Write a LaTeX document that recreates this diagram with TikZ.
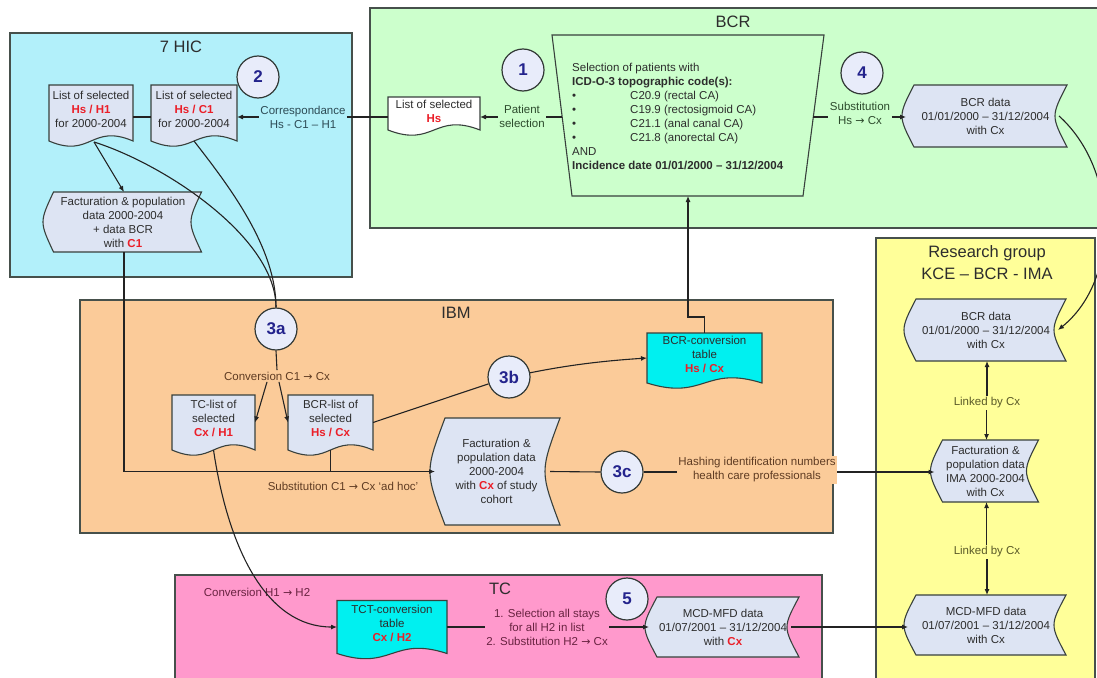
\documentclass[tikz,border=0pt]{standalone}
\usepackage{fontspec}
\setmainfont{Liberation Sans}
\newfontfamily\arrfont{DejaVu Sans}
\usetikzlibrary{calc,arrows.meta}
\definecolor{hicfill}{RGB}{178,240,250}
\definecolor{bcrfill}{RGB}{204,255,204}
\definecolor{ibmfill}{RGB}{251,203,153}
\definecolor{resfill}{RGB}{255,255,153}
\definecolor{tcfill}{RGB}{255,153,204}
\definecolor{docfill}{RGB}{221,228,243}
\definecolor{tabfill}{RGB}{0,240,240}
\definecolor{circfill}{RGB}{232,236,250}
\definecolor{numblue}{RGB}{35,35,140}
\definecolor{redtxt}{RGB}{235,30,40}
\definecolor{txt}{RGB}{45,45,45}
\definecolor{linec}{RGB}{35,35,35}
\definecolor{borderc}{RGB}{70,80,75}
\definecolor{hiclab}{RGB}{45,75,85}
\definecolor{bcrlab}{RGB}{45,75,45}
\definecolor{ibmlab}{RGB}{95,60,35}
\definecolor{tclab}{RGB}{105,35,65}
\definecolor{reslab}{RGB}{90,90,40}
\newcommand\rd[1]{\textcolor{redtxt}{\textbf{#1}}}
\newcommand\ra{{\arrfont\fontsize{11}{14}\selectfont →}}
\tikzset{
 every node/.style={font=\fontsize{11.5}{14}\selectfont, text=txt},
 region/.style={draw=borderc, line width=1.4pt},
 title/.style={font=\fontsize{16.5}{22}\selectfont, text=txt, align=center},
 anchorbox/.style={rectangle, inner sep=0pt, outer sep=0pt},
 doctext/.style={align=center, inner sep=1pt},
 shapeborder/.style={draw=borderc!80!black, line width=1.1pt},
 num/.style={circle, draw=borderc!70!black, line width=1.2pt, fill=circfill, minimum size=42pt, inner sep=0pt, font=\fontsize{17}{20}\selectfont\bfseries, text=numblue},
 conn/.style={draw=linec, line width=1.1pt},
 arr/.style={conn, -{Latex[length=6pt,width=5pt]}},
 lab/.style={align=center, inner sep=1.5pt},
}
% document shape: name, fill, wave control
\newcommand\docshape[3]{%
  \filldraw[shapeborder, fill=#2] (#1.north west) -- (#1.north east) -- (#1.south east)
    .. controls ($(#1.south)+(0,-#3)$) and ($(#1.south)+(0,#3)$) .. (#1.south west) -- cycle;
}
% stored data shape: name, fill, curvature
\newcommand\sdshape[3]{%
  \filldraw[shapeborder, fill=#2] ($(#1.north west)+(#3,0)$) -- (#1.north east)
    .. controls ($(#1.east)+(-2*#3,0)$) .. (#1.south east) -- ($(#1.south west)+(#3,0)$)
    .. controls ($(#1.west)+(-#3,0)$) .. ($(#1.north west)+(#3,0)$) -- cycle;
}
% name, x, y, w, h, fill, text-offset, text
\newcommand\docnode[8]{%
  \node[anchorbox, minimum width=#4pt, minimum height=#5pt] (#1) at (#2,#3) {};
  \docshape{#1}{#6}{18}
  \node[doctext] (#1t) at ($(#1.center)+(0,-#7)$) {#8};
}
% name, x, y, w, h, fill, curvature, text
\newcommand\sdnode[8]{%
  \node[anchorbox, minimum width=#4pt, minimum height=#5pt] (#1) at (#2,#3) {};
  \sdshape{#1}{#6}{#7}
  \node[doctext] (#1t) at ($(#1.center)+(-1,0)$) {#8};
}
\begin{document}
\begin{tikzpicture}[x=1pt,y=-1pt]
\useasboundingbox (0,0) rectangle (1097,677);
% regions
\draw[region, fill=hicfill] (10,33) rectangle (352,277);
\draw[region, fill=bcrfill] (370,8) rectangle (1110,228);
\draw[region, fill=ibmfill] (80,300) rectangle (833,533);
\draw[region, fill=resfill] (876,238) rectangle (1095,700);
\draw[region, fill=tcfill] (175,575) rectangle (822,700);
% titles
\node[title] (thic) at (181,47) {7 HIC};
\node[title] (tbcr) at (733,22) {BCR};
\node[title] (tibm) at (456,313) {IBM};
\node[title] (tres) at (987,263) {Research group\\KCE – BCR - IMA};
\node[title] (ttc) at (500,589) {TC};
% selection (manual operation)
\node[anchorbox, minimum width=272pt, minimum height=161pt] (sel) at (688,115.5) {};
\filldraw[shapeborder, fill=bcrfill] (sel.north west) -- (sel.north east) -- ($(sel.south east)+(-21,0)$) -- ($(sel.south west)+(20,0)$) -- cycle;
\coordinate (selL) at (562,117);
\coordinate (selR) at (813,117);
\node[anchor=west, align=left, inner sep=0pt] (seltext) at (572,116) {Selection of patients with\\\textbf{ICD-O-3 topographic code(s):}\\\makebox[58pt][l]{•}C20.9 (rectal CA)\\\makebox[58pt][l]{•}C19.9 (rectosigmoid CA)\\\makebox[58pt][l]{•}C21.1 (anal canal CA)\\\makebox[58pt][l]{•}C21.8 (anorectal CA)\\AND\\\textbf{Incidence date 01/01/2000 – 31/12/2004}};
% documents
\docnode{hsh1}{91}{113}{84}{56}{docfill}{4}{List of selected\\\rd{Hs / H1}\\for 2000-2004}
\docnode{hsc1}{194}{113}{86}{56}{docfill}{4}{List of selected\\\rd{Hs / C1}\\for 2000-2004}
\docnode{hs}{434}{113.5}{92}{33}{white}{2}{List of selected\\\rd{Hs}}
\docnode{tclist}{213.5}{422.5}{83}{55}{docfill}{4}{TC-list of\\selected\\\rd{Cx / H1}}
\docnode{bcrlist}{330.5}{422.5}{85}{55}{docfill}{4}{BCR-list of\\selected\\\rd{Hs / Cx}}
\docnode{bcrconv}{704.5}{358}{115}{50}{tabfill}{4}{BCR-conversion\\table\\\rd{Hs / Cx}}
\docnode{tct}{392}{627}{110}{53}{tabfill}{4}{TCT-conversion\\table\\\rd{Cx / H2}}
% stored data
\sdnode{facthic}{124}{222}{155}{60}{docfill}{7}{Facturation \& population\\data 2000-2004\\+ data BCR\\with \rd{C1}}
\sdnode{factibm}{497.5}{471.5}{125}{107}{docfill}{10}{Facturation \&\\population data\\2000-2004\\with \rd{Cx} of study\\cohort}
\sdnode{bcrdata}{986.5}{116}{161}{62}{docfill}{8}{BCR data\\01/01/2000 – 31/12/2004\\with Cx}
\sdnode{bcrres}{987}{330}{158}{62}{docfill}{8}{BCR data\\01/01/2000 – 31/12/2004\\with Cx}
\sdnode{factima}{986.5}{471}{104}{62}{docfill}{8}{Facturation \&\\population data\\IMA 2000-2004\\with Cx}
\sdnode{mcdres}{987}{625}{158}{60}{docfill}{8}{MCD-MFD data\\01/07/2001 – 31/12/2004\\with Cx}
\sdnode{mcdtc}{724}{627}{150}{60}{docfill}{8}{MCD-MFD data\\01/07/2001 – 31/12/2004\\with \rd{Cx}}
% circles
\node[num] (c1) at (523,70) {1};
\node[num] (c2) at (258,77) {2};
\node[num] (c4) at (862,73) {4};
\node[num] (c3a) at (276,329) {3a};
\node[num] (c3b) at (509,377) {3b};
\node[num] (c3c) at (622,472) {3c};
\node[num] (c5) at (627,599) {5};
% labels
\node[lab, text=hiclab] (corr) at (303,117) {Correspondance\\Hs - C1 – H1};
\node[lab, text=bcrlab] (pat) at (522,116) {Patient\\selection};
\node[lab, text=bcrlab] (sub4) at (860,113) {Substitution\\Hs \ra{} Cx};
\node[lab, text=ibmlab] (conv3a) at (277,376) {Conversion C1 \ra{} Cx};
\node[lab, text=ibmlab] (subadhoc) at (343,486) {Substitution C1 \ra{} Cx ‘ad hoc’};
\node[lab, text=ibmlab, fill=ibmfill] (hash) at (757,470) {Hashing identification numbers\\health care professionals};
\node[lab, text=reslab] (link1) at (987,403) {Linked by Cx};
\node[lab, text=reslab] (link2) at (987,552) {Linked by Cx};
\node[lab, text=tclab] (convh) at (257,592) {Conversion H1 \ra{} H2};
\node[lab, text=tclab] (sel5) at (547,627) {1. Selection all stays\\for all H2 in list\\2. Substitution H2 \ra{} Cx};
% connectors
\draw[conn] (hsh1.east |- corr) -- (hsc1.west |- corr);
\draw[conn] (hs.west |- corr) -- (corr.east);
\draw[arr] (corr.west) -- (hsc1.east |- corr);
\draw[conn] (selL) -- (selL -| pat.east);
\draw[arr] (pat.west |- selL) -- (hs.east |- selL);
\draw[conn] (selR) -- (selR -| sub4.west);
\draw[arr] (sub4.east |- selR) -- (bcrdata.west |- selR);
\draw[arr] ($(bcrdata.east)+(-8,0)$) .. controls +(60,54) and +(62,-50) .. ($(bcrres.east)+(-8,0)$);
\draw[arr] (bcrconv.north) -- ++(0,-16) -| (sel.south);
\draw[arr] (bcrres.south |- link1.north) -- (bcrres.south);
\draw[arr] (factima.north |- link1.south) -- (factima.north);
\draw[arr] (factima.south |- link2.north) -- (factima.south);
\draw[arr] (mcdres.north |- link2.south) -- (mcdres.north);
\draw[arr] (facthic.south) -- (facthic.south |- factibm.west) -- (factibm.west);
\draw[conn] (bcrlist.south) -- (bcrlist.south |- factibm.west);
\draw[arr] ($(hsh1.south)+(3,1)$) -- (facthic.north);
\draw[conn] ($(hsh1.south)+(3,1)$) .. controls +(70,22) and +(0,-70) .. (c3a.north);
\draw[conn] (hsc1.south) .. controls +(35,45) and +(0,-60) .. (c3a.north);
\draw[conn] (c3a.south) -- (conv3a.north);
\draw[arr] ($(conv3a.south)+(-10,0)$) -- (tclist.east);
\draw[arr] ($(conv3a.south)+(2,0)$) -- (bcrlist.west);
\draw[conn] (bcrlist.east) -- (c3b);
\draw[arr] (c3b) .. controls +(60,-12) and +(-45,3) .. (bcrconv.west);
\draw[conn] ($(factibm.east)+(-10,0)$) -- (c3c.west);
\draw[conn] (c3c.east) -- (c3c.east -| hash.west);
\draw[arr] (hash.east |- c3c.east) -- (factima.west |- c3c.east);
\draw[arr] (tclist.south) .. controls +(15,100) and +(-70,0) .. (tct.west);
\draw[conn] (tct.east) -- (tct.east -| sel5.west);
\draw[arr] (sel5.east |- tct.east) -- (mcdtc.west |- tct.east);
\draw[arr] ($(mcdtc.east)+(-8,0)$) -- (mcdres.west |- mcdtc.east);
\end{tikzpicture}
\end{document}
